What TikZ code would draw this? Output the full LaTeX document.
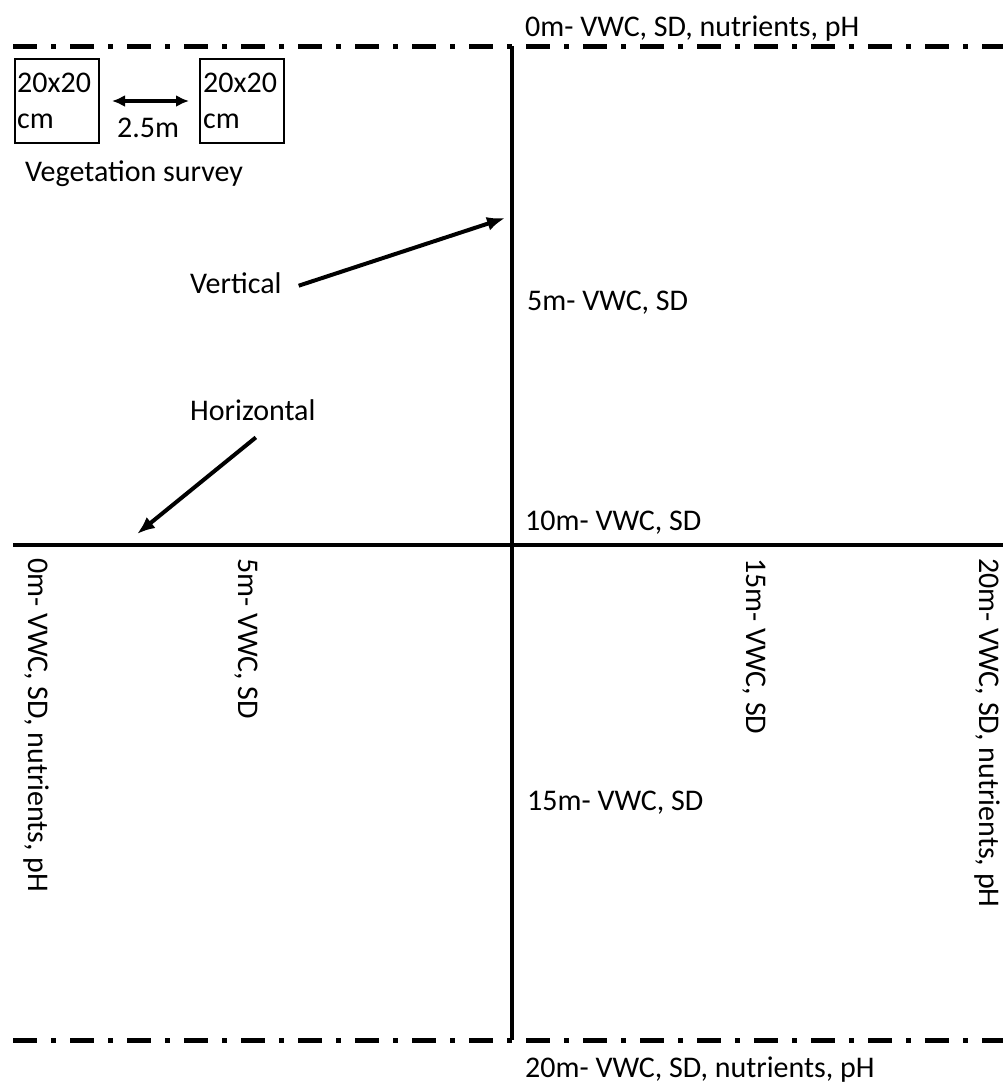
\documentclass[tikz,border=0pt]{standalone}
\usepackage{fontspec}
\setmainfont{Carlito}
\usetikzlibrary{arrows.meta,calc}
\begin{document}
\begin{tikzpicture}[x=1pt,y=-1pt,
  lbl/.style={inner sep=0pt, font=\fontsize{30}{36}\selectfont, anchor=base west},
  rlbl/.style={lbl, rotate=-90},
  dashdot line/.style={line width=5pt, dash pattern=on 24pt off 14pt on 5pt off 14pt},
  axisline/.style={line width=4.5pt},
  pointer/.style={line width=4pt, -{Latex[length=18pt,width=14pt]}},
  twoway/.style={line width=3.5pt, {Latex[length=13pt,width=12pt]}-{Latex[length=13pt,width=12pt]}},
  plotbox/.style={draw, line width=2pt, minimum size=84pt, inner sep=0pt, anchor=north west}
]
\useasboundingbox (0,0) rectangle (1003,1085);
\fill[white] (0,0) rectangle (1003,1085);

% line end points
\coordinate (ttl) at (13,46);
\coordinate (ttr) at (1003,46);
\coordinate (btl) at (13,1040);
\coordinate (btr) at (1003,1040);
\coordinate (vtop) at (512,46);
\coordinate (vbot) at (512,1040);
\coordinate (hleft) at (13,545);
\coordinate (hright) at (1003,545);

% transects and boundaries
\draw[dashdot line] (ttl) -- (ttr);
\draw[dashdot line] (btl) -- (btr);
\draw[axisline] (vtop) -- (vbot);
\draw[axisline] (hleft) -- (hright);

% vegetation survey plots
\node[plotbox] (box1) at (14,58) {};
\node[plotbox] (box2) at (199,58) {};
\node[lbl] (b1a) at (17,92) {20x20};
\node[lbl] (b1b) at (17,128) {cm};
\node[lbl] (b2a) at (203,92) {20x20};
\node[lbl] (b2b) at (203,128) {cm};
\draw[twoway] ([xshift=12pt]box1.east) -- ([xshift=-10pt]box2.west);
\node[lbl] (dist) at (117,137) {2.5m};
\node[lbl] (veg) at (25,181) {Vegetation survey};

% pointers
\node[lbl] (vert) at (190,293) {Vertical};
\coordinate (vtip) at (505,218);
\draw[pointer] ($(vert.east)+(17,3)$) -- (vtip);
\node[lbl] (horiz) at (190,420) {Horizontal};
\coordinate (htip) at (137,534);
\draw[pointer] ($(horiz.south)+(3,17)$) -- (htip);

% vertical transect labels
\node[lbl] (v0) at (525,36) {0m- VWC, SD, nutrients, pH};
\node[lbl] (v5) at (527,310) {5m- VWC, SD};
\node[lbl] (v10) at (525,530) {10m- VWC, SD};
\node[lbl] (v15) at (527,810) {15m- VWC, SD};
\node[lbl] (v20) at (525,1077) {20m- VWC, SD, nutrients, pH};

% horizontal transect labels (rotated)
\node[rlbl] (h0) at (28,558) {0m- VWC, SD, nutrients, pH};
\node[rlbl] (h5) at (238,558) {5m- VWC, SD};
\node[rlbl] (h15) at (746,558) {15m- VWC, SD};
\node[rlbl] (h20) at (979,558) {20m- VWC, SD, nutrients, pH};
\end{tikzpicture}
\end{document}
